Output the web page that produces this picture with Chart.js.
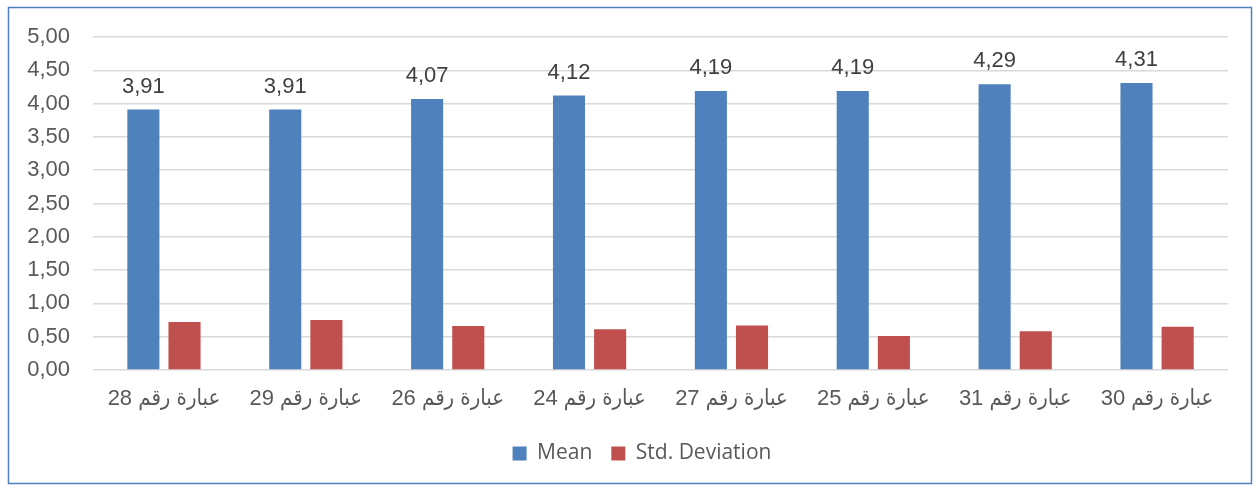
<!DOCTYPE html>
<html>
<head>
<meta charset="utf-8">
<script src="https://cdn.jsdelivr.net/npm/chart.js@4.4.1/dist/chart.umd.min.js"></script>
<style>
  html, body { margin: 0; padding: 0; background: #ffffff; }
  #wrap { width: 1259px; height: 490px; position: relative; }
</style>
</head>
<body>
<div id="wrap"><canvas id="chart" width="1259" height="490"></canvas></div>
<script>
// Statement labels (x axis)
const categories = ['عبارة رقم 28', 'عبارة رقم 29', 'عبارة رقم 26', 'عبارة رقم 24',
                    'عبارة رقم 27', 'عبارة رقم 25', 'عبارة رقم 31', 'عبارة رقم 30'];
// Mean score per statement
const meanValues = [3.91, 3.91, 4.07, 4.12, 4.19, 4.19, 4.29, 4.31];
// Standard deviation per statement
const stdValues = [0.72, 0.75, 0.66, 0.61, 0.67, 0.51, 0.58, 0.65];
// Y axis ticks
const yTicks = [0, 0.5, 1, 1.5, 2, 2.5, 3, 3.5, 4, 4.5, 5];
const seriesNames = ['Mean', 'Std. Deviation'];

const fmt = v => v.toFixed(2).replace('.', ',');
const labelFont = '"Liberation Sans", "DejaVu Sans Condensed", Arial, sans-serif';

// Outer frame around the whole chart
const framePlugin = {
  id: 'frame',
  beforeDraw(chart) {
    const ctx = chart.ctx;
    ctx.save();
    ctx.fillStyle = '#ffffff';
    ctx.fillRect(0, 0, chart.width, chart.height);
    ctx.strokeStyle = '#4F81BD';
    ctx.lineWidth = 1.5;
    ctx.strokeRect(8.5, 7.5, 1243, 476);
    ctx.restore();
  }
};

// Nudge the legend so it sits under the middle of the plot
const legendShift = {
  id: 'legendShift',
  afterLayout(chart) {
    const lg = chart.legend;
    if (lg) { lg.left += 28; lg.right += 28; }
  }
};

// Value labels above the Mean bars
const valueLabels = {
  id: 'valueLabels',
  afterDatasetsDraw(chart) {
    const ctx = chart.ctx;
    const meta = chart.getDatasetMeta(0);
    ctx.save();
    ctx.font = '22px ' + labelFont;
    ctx.fillStyle = '#404040';
    ctx.textAlign = 'center';
    ctx.textBaseline = 'alphabetic';
    meta.data.forEach((bar, i) => {
      ctx.fillText(fmt(meanValues[i]), bar.x, bar.y - 17);
    });
    ctx.restore();
  }
};

new Chart(document.getElementById('chart'), {
  type: 'bar',
  data: {
    labels: categories,
    datasets: [
      { label: seriesNames[0], data: meanValues, backgroundColor: '#4F81BD', borderWidth: 0,
        categoryPercentage: 0.58, barPercentage: 0.78 },
      { label: seriesNames[1], data: stdValues, backgroundColor: '#C0504D', borderWidth: 0,
        categoryPercentage: 0.58, barPercentage: 0.78 }
    ]
  },
  options: {
    responsive: false,
    animation: false,
    layout: { padding: { left: 0, right: 31, top: 37, bottom: 16 } },
    plugins: {
      tooltip: { enabled: false },
      legend: {
        position: 'bottom',
        labels: {
          font: { family: '"Open Sans", sans-serif', size: 21 },
          color: '#595959',
          boxWidth: 14,
          boxHeight: 14,
          padding: 19,
          useBorderRadius: false
        }
      }
    },
    scales: {
      x: {
        grid: { display: false, drawTicks: false },
        border: { display: false },
        ticks: {
          font: { family: labelFont, size: 22 },
          color: '#595959',
          padding: 16,
          maxRotation: 0,
          autoSkip: false
        },
        afterFit(scale) { scale.height = 54; }
      },
      y: {
        min: 0,
        max: 5,
        afterBuildTicks(scale) { scale.ticks = yTicks.map(v => ({ value: v })); },
        grid: { color: '#D9D9D9', lineWidth: 1.5, drawTicks: false },
        border: { display: false },
        ticks: {
          font: { family: labelFont, size: 22 },
          color: '#595959',
          padding: 23,
          callback: v => fmt(v)
        },
        afterFit(scale) { scale.width = 93; }
      }
    }
  },
  plugins: [framePlugin, legendShift, valueLabels]
});
</script>
</body>
</html>
